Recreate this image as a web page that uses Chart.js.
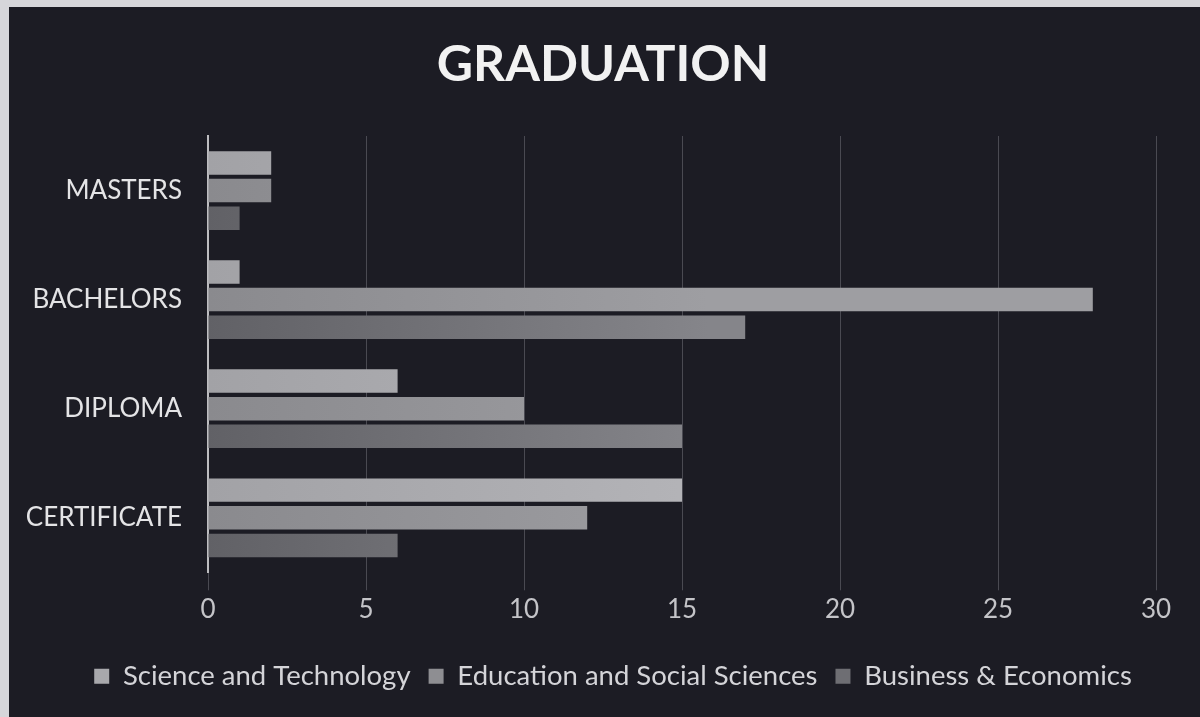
<!DOCTYPE html>
<html>
<head>
<meta charset="utf-8">
<title>Graduation</title>
<script src="https://cdn.jsdelivr.net/npm/chart.js@4.4.1/dist/chart.umd.min.js"></script>
<style>
  html, body { margin: 0; padding: 0; background: #1c1c24; }
  #wrap { width: 1200px; height: 717px; position: relative; }
</style>
</head>
<body>
<div id="wrap"><canvas id="gradChart" width="1200" height="717"></canvas></div>
<script>
const levels = ['MASTERS', 'BACHELORS', 'DIPLOMA', 'CERTIFICATE'];
const science = [2, 1, 6, 15];
const education = [2, 28, 10, 12];
const business = [1, 17, 15, 6];
const xTicks = [0, 5, 10, 15, 20, 25, 30];

const FONT = 'Lato, "Open Sans", sans-serif';

// horizontal shading for each bar, darker at the base
function shade(from, to) {
    return (ctx) => {
        const area = ctx.chart.chartArea;
        if (!area) return to;
        const g = ctx.chart.ctx.createLinearGradient(area.left, 0, area.left + 500, 0);
        g.addColorStop(0, from);
        g.addColorStop(1, to);
        return g;
    };
}

// dark page with the pale strip along the top and left edges
const frame = {
    id: 'frame',
    beforeDraw(chart) {
        const c = chart.ctx;
        c.save();
        c.fillStyle = '#1c1c24';
        c.fillRect(0, 0, chart.width, chart.height);
        c.fillStyle = '#d6d6da';
        c.fillRect(0, 0, chart.width, 7);
        c.fillRect(0, 0, 9, chart.height);
        c.restore();
    }
};

// title and legend sit centred on the whole card, not on the padded box
const recentre = {
    id: 'recentre',
    afterLayout(chart) {
        chart.titleBlock.left += 25;
        chart.titleBlock.right += 25;
        chart.legend.left += 35;
        chart.legend.right += 35;
    }
};

new Chart(document.getElementById('gradChart').getContext('2d'), {
    type: 'bar',
    data: {
        labels: levels,
        datasets: [
            { label: 'Science and Technology', data: science,
              backgroundColor: shade('#a2a2a6', '#b4b4b8'), legendColor: '#a8a8ac' },
            { label: 'Education and Social Sciences', data: education,
              backgroundColor: shade('#8a8a8e', '#9e9ea2'), legendColor: '#8e8e92' },
            { label: 'Business & Economics', data: business,
              backgroundColor: shade('#616166', '#85858a'), legendColor: '#6e6e73' }
        ]
    },
    options: {
        indexAxis: 'y',
        responsive: false,
        animation: false,
        categoryPercentage: 0.76,
        barPercentage: 0.85,
        layout: { padding: { left: 0, right: 44, top: 0, bottom: 17 } },
        plugins: {
            title: {
                display: true,
                text: 'GRADUATION',
                color: '#f2f2f2',
                font: { family: FONT, size: 50, weight: 'bold' },
                padding: { top: 35, bottom: 41 }
            },
            legend: {
                position: 'bottom',
                labels: {
                    color: '#d4d4d8',
                    font: { family: FONT, size: 27.5 },
                    boxWidth: 15,
                    boxHeight: 15,
                    padding: 18,
                    generateLabels(chart) {
                        return chart.data.datasets.map((ds, i) => ({
                            text: ds.label,
                            fillStyle: ds.legendColor,
                            strokeStyle: ds.legendColor,
                            lineWidth: 0,
                            fontColor: '#d4d4d8',
                            datasetIndex: i
                        }));
                    }
                }
            },
            tooltip: { enabled: false }
        },
        scales: {
            x: {
                min: 0,
                max: 30,
                afterBuildTicks(scale) {
                    scale.ticks = xTicks.map(v => ({ value: v }));
                },
                afterFit(scale) { scale.height += 15; },
                grid: { color: '#4a4a52', lineWidth: 1, tickLength: 18 },
                border: { display: false },
                ticks: {
                    color: '#c4c4c8',
                    font: { family: FONT, size: 26 },
                    padding: 4
                }
            },
            y: {
                afterFit(scale) { scale.width = 208; },
                grid: { display: false, drawTicks: false },
                border: { display: true, color: '#bdbdc0', width: 2 },
                ticks: {
                    color: '#e4e4e6',
                    font: { family: FONT, size: 26 },
                    padding: 26
                }
            }
        }
    },
    plugins: [frame, recentre]
});
</script>
</body>
</html>
